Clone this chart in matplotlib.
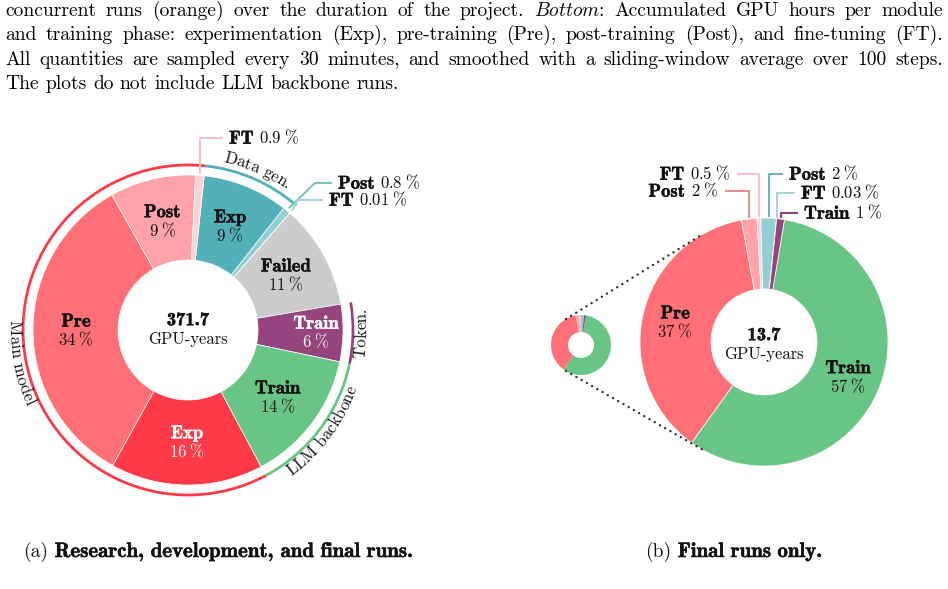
import numpy as np
import matplotlib.pyplot as plt
import matplotlib.patheffects as pe
from matplotlib.patches import Arc

plt.rcParams["font.family"] = "cmr10"
plt.rcParams["mathtext.fontset"] = "cm"
plt.rcParams["axes.unicode_minus"] = False

W, H = 948, 589
TXT = "#111111"

# caption text above the figure
caption = [
    "concurrent runs (orange) over the duration of the project. $\\mathit{Bottom}$: Accumulated GPU hours per module",
    "and training phase: experimentation (Exp), pre-training (Pre), post-training (Post), and fine-tuning (FT).",
    "All quantities are sampled every 30 minutes, and smoothed with a sliding-window average over 100 steps.",
    "The plots do not include LLM backbone runs.",
]

# (a) research, development and final runs, clockwise from the top
left_labels = ["Exp", "Post", "FT", "Failed", "Train", "Train", "Exp", "Pre", "Post", "FT"]
left_values = [9, 0.8, 0.01, 11, 6, 14, 16, 34, 9, 0.9]
left_colors = ["#53afb8", "#93ced4", "#c8e6e9", "#cccccc", "#96447d",
               "#69c585", "#ff3a48", "#ff6f77", "#ffa2a9", "#ffd3d6"]
left_total = "371.7"

groups = ["Data gen.", "Token.", "LLM backbone", "Main model"]
group_members = [[0, 1, 2], [4], [5], [6, 7, 8, 9]]
group_colors = ["#53afb8", "#96447d", "#69c585", "#ff3a48"]

# (b) final runs only
right_labels = ["Train", "Pre", "Post", "FT", "Post", "FT", "Train"]
right_values = [57, 37, 2, 0.5, 2, 0.03, 1]
right_colors = ["#69c585", "#ff6f77", "#ffa2a9", "#ffd3d6", "#93ced4", "#c8e6e9", "#96447d"]
right_total = "13.7"

sub_a = ("(a)", "Research, development, and final runs.")
sub_b = ("(b)", "Final runs only.")

fig = plt.figure(figsize=(W / 100, H / 100), dpi=100)
ax = fig.add_axes([0, 0, 1, 1])
ax.set_xlim(0, W)
ax.set_ylim(0, H)
ax.set_axis_off()
renderer = fig.canvas.get_renderer()

FS = 12      # regular label size
BFS = 13.4   # bold label size


def em(fs):
    return fs * 100 / 72


def text_w(s, fs, bold=False):
    t = ax.text(0, 0, s, fontsize=fs, family="cmb10" if bold else "cmr10")
    w = t.get_window_extent(renderer).width
    t.remove()
    return w


def polar(c, r, ang):
    a = np.radians(ang)
    return c[0] + r * np.cos(a), c[1] + r * np.sin(a)


def pct(v):
    return f"${v:g}\\;\\%$"


def put(x, y, s, fs, bold=False, color=TXT, ha="left"):
    kw = {}
    if bold:
        kw["path_effects"] = [pe.withStroke(linewidth=0.35, foreground=color)]
    ax.text(x, y, s, fontsize=fs, family="cmb10" if bold else "cmr10",
            color=color, ha=ha, va="baseline", **kw)


def rich(x, y, parts, ha="left", color=TXT, fs=FS, bfs=BFS):
    # parts: list of (text, bold) separated by interword spaces; y is baseline
    sizes = [bfs if b else fs for _, b in parts]
    ws = [text_w(s, f, b) for (s, b), f in zip(parts, sizes)]
    gap = 0.333 * em(fs)
    total = sum(ws) + gap * (len(parts) - 1)
    x0 = {"left": x, "right": x - total, "center": x - total / 2}[ha]
    for (s, b), f, w in zip(parts, sizes, ws):
        put(x0, y, s, f, b, color)
        x0 += w + gap


def two_line(x, y, top, bottom, color=TXT):
    # y is the visual centre of the two-line block
    off = 0.34 * em(FS)
    rich(x, y + 9.5 - off, [(top, True)], "center", color)
    rich(x, y - 9.5 - off, [(bottom, False)], "center", color)


def curved(s, c, r, mid, ccw, fs, color):
    sp = 0.333 * em(fs)
    base = text_w("||", fs)
    adv = [sp if ch == " " else text_w("|" + ch + "|", fs) - base for ch in s]
    total = sum(adv)
    xh = 0.43 * em(fs)
    rb = r + xh / 2 if ccw else r - xh / 2
    pos = 0
    for ch, a in zip(s, adv):
        off = pos + a / 2 - total / 2
        pos += a
        if ch == " ":
            continue
        d = np.degrees(off / r)
        ang = mid + d if ccw else mid - d
        x, y = polar(c, rb, ang)
        rot = ang + 90 if ccw else ang - 90
        ax.text(x, y, ch, fontsize=fs, color=color, rotation=rot,
                rotation_mode="anchor", ha="center", va="baseline")


def callout(c, r, ang, elbow, end, name, v, ha, color):
    x0, y0 = polar(c, r, ang)
    ex = x0 if elbow[0] is None else elbow[0]
    ey = H - elbow[1]
    ax.plot([x0, ex, end], [y0, ey, ey], color=color, lw=1.5, solid_capstyle="butt")
    tx = end + 6 if ha == "left" else end - 7
    rich(tx, ey - 0.34 * em(FS), [(name, True), (pct(v), False)], ha)


# caption, justified
cap_words = [line.split(" ") for line in caption]
w10 = sum(text_w(w, 10) for w in cap_words[3]) + 0.333 * em(10) * (len(cap_words[3]) - 1)
cap_fs = 10 * 395 / w10
for i, words in enumerate(cap_words):
    widths = [text_w(w, cap_fs) for w in words]
    if i < 3:
        gap = (938 - sum(widths)) / (len(words) - 1)
    else:
        gap = 0.333 * em(cap_fs)
    x = 5
    for w, wd in zip(words, widths):
        ax.text(x, H - (16 + 24.3 * i), w, fontsize=cap_fs, va="baseline", ha="left")
        x += wd + gap

# left donut
lc = (188, H - 330)
lr, lri = 155, 70
lw, _ = ax.pie(left_values, colors=left_colors, startangle=84, counterclock=False,
               radius=lr, center=lc, frame=True,
               wedgeprops=dict(width=lr - lri, linewidth=0.5, edgecolor="white"))
lmid = [(w.theta1 + w.theta2) / 2 for w in lw]

left_text_col = [TXT] * 10
left_text_col[4] = "white"
left_text_col[6] = "white"
for i, (lab, v) in enumerate(zip(left_labels, left_values)):
    if v < 5:
        continue
    r = 128 if i == 4 else 112
    x, y = polar(lc, r, lmid[i])
    two_line(x, y, lab, pct(v), left_text_col[i])

two_line(lc[0], lc[1] + 1, left_total, "GPU-years")

for name, mem, col in zip(groups, group_members, group_colors):
    t1 = min(lw[k].theta1 for k in mem)
    t2 = max(lw[k].theta2 for k in mem)
    ax.add_patch(Arc(lc, 330, 330, theta1=t1, theta2=t2, lw=2.0, color=col))
    ccw = name != "Data gen."
    curved(name, lc, 175, (t1 + t2) / 2, ccw, 12, TXT)

callout(lc, 156, lmid[9], (None, 138), 223, left_labels[9], left_values[9], "left", "#f0c3c7")
callout(lc, 158, lmid[1], (315, 183), 332, left_labels[1], left_values[1], "left", "#7cbfc6")
callout(lc, 158, lmid[2], (298, 200), 323, left_labels[2], left_values[2], "left", "#a6d4d9")

# right donut + small copy
rc = (764, H - 342)
rr, rri = 124, 53
rw, _ = ax.pie(right_values, colors=right_colors, startangle=80.5, counterclock=False,
               radius=rr, center=rc, frame=True,
               wedgeprops=dict(width=rr - rri, linewidth=0.5, edgecolor="white"))
rmid = [(w.theta1 + w.theta2) / 2 for w in rw]

sc = (581, H - 345)
ax.pie(right_values, colors=right_colors, startangle=80.5, counterclock=False,
       radius=30, center=sc, frame=True, wedgeprops=dict(width=17, linewidth=0))

for s in (120, -120):
    p0 = polar(sc, 30, s)
    p1 = polar(rc, rr, s)
    ax.plot([p0[0], p1[0]], [p0[1], p1[1]], color="#333333", lw=1.8,
            linestyle=(0, (0.01, 2.4)), dash_capstyle="round")

for i, (lab, v) in enumerate(zip(right_labels, right_values)):
    if v < 5:
        continue
    x, y = polar(rc, 91, rmid[i])
    two_line(x, y, lab, pct(v))

two_line(rc[0], rc[1] - 2, right_total, "GPU-years")

callout(rc, rr + 1, rmid[3], (None, 174), 737, right_labels[3], right_values[3], "right", "#f2c6ca")
callout(rc, rr + 1, rmid[2], (None, 191), 725, right_labels[2], right_values[2], "right", "#e98d96")
callout(rc, rr + 1, rmid[4], (None, 174), 783, right_labels[4], right_values[4], "left", "#6fb3bb")
callout(rc, rr + 1, rmid[5], (None, 193), 795, right_labels[5], right_values[5], "left", "#a8d4d9")
callout(rc, rr + 1, rmid[6], (None, 213), 798, right_labels[6], right_values[6], "left", "#8e3f76")

# sub-captions
for (pre, bold), x in zip([sub_a, sub_b], [23, 645]):
    parts = [(pre, False)] + [(w, True) for w in bold.split(" ")]
    rich(x, H - 557, parts, "left", TXT, cap_fs, cap_fs * 1.07)

ax.set_xlim(0, W)
ax.set_ylim(0, H)
fig.savefig("out.png", dpi=100)
